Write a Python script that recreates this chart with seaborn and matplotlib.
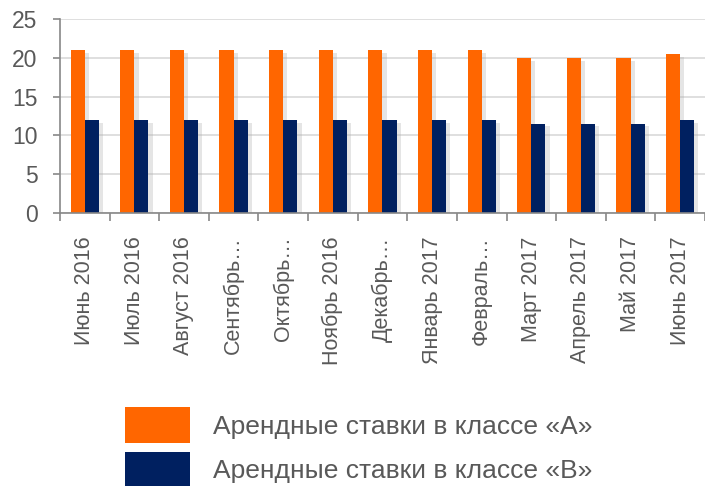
import pandas as pd
import matplotlib
matplotlib.use("Agg")
import matplotlib.pyplot as plt
import matplotlib.patheffects as pe
from matplotlib.patches import Patch
import seaborn as sns

months = ["Июнь 2016", "Июль 2016", "Август 2016", "Сентябрь…", "Октябрь…",
          "Ноябрь 2016", "Декабрь…", "Январь 2017", "Февраль…", "Март 2017",
          "Апрель 2017", "Май 2017", "Июнь 2017"]
class_a = [21, 21, 21, 21, 21, 21, 21, 21, 21, 20, 20, 20, 20.5]
class_b = [12, 12, 12, 12, 12, 12, 12, 12, 12, 11.5, 11.5, 11.5, 12]
series = ["Арендные ставки в классе «А»", "Арендные ставки в классе «В»"]
colors = ["#FF6600", "#002060"]

df = pd.DataFrame({
    "month": months * 2,
    "value": class_a + class_b,
    "series": [series[0]] * len(months) + [series[1]] * len(months),
})

sns.set_theme(style="white")
plt.rcParams["font.family"] = ["Liberation Sans", "DejaVu Sans"]
text_color = "#595959"

fig = plt.figure(figsize=(7.05, 4.86), dpi=100)
ax = fig.add_axes([0.085, 0.562, 0.915, 0.399])

sns.barplot(data=df, x="month", y="value", hue="series", palette=colors,
            width=0.57, gap=0, saturation=1, legend=False, ax=ax)

# soft drop shadow like the original
for bar in ax.patches:
    bar.set_linewidth(0)
    bar.set_path_effects([pe.SimplePatchShadow(offset=(3, -2), shadow_rgbFace="#AAAAAA", alpha=0.3),
                          pe.Normal()])

ax.set_ylim(0, 25)
ax.set_yticks([0, 5, 10, 15, 20, 25])
ax.set_xlim(-0.5, len(months) - 0.5)
ax.set_xlabel("")
ax.set_ylabel("")
ax.yaxis.grid(True, color="#D9D9D9", linewidth=1.2)
ax.set_axisbelow(True)

for side in ["top", "right"]:
    ax.spines[side].set_visible(False)
for side in ["left", "bottom"]:
    ax.spines[side].set_color("#888888")
    ax.spines[side].set_linewidth(1.2)

ax.tick_params(axis="y", labelsize=16.5, colors="#888888", labelcolor=text_color,
               length=5, width=1.2, direction="out", left=True, pad=11)
ax.tick_params(axis="x", which="major", labelsize=15.5, labelcolor=text_color,
               length=0, pad=17, labelrotation=90)
ax.set_xticks([i - 0.5 for i in range(len(months) + 1)], minor=True)
ax.tick_params(axis="x", which="minor", length=6, width=1.2, color="#888888",
               direction="out", bottom=True)

handles = [Patch(facecolor=c, edgecolor="none") for c in colors]
fig.legend(handles, series, loc="upper left", bbox_to_anchor=(0.177, 0.163),
           frameon=False, fontsize=19, handlelength=2.46, handleheight=1.75,
           labelspacing=0.32, handletextpad=0.87, borderpad=0, borderaxespad=0,
           labelcolor=text_color)

fig.savefig("out.png", dpi=100)
